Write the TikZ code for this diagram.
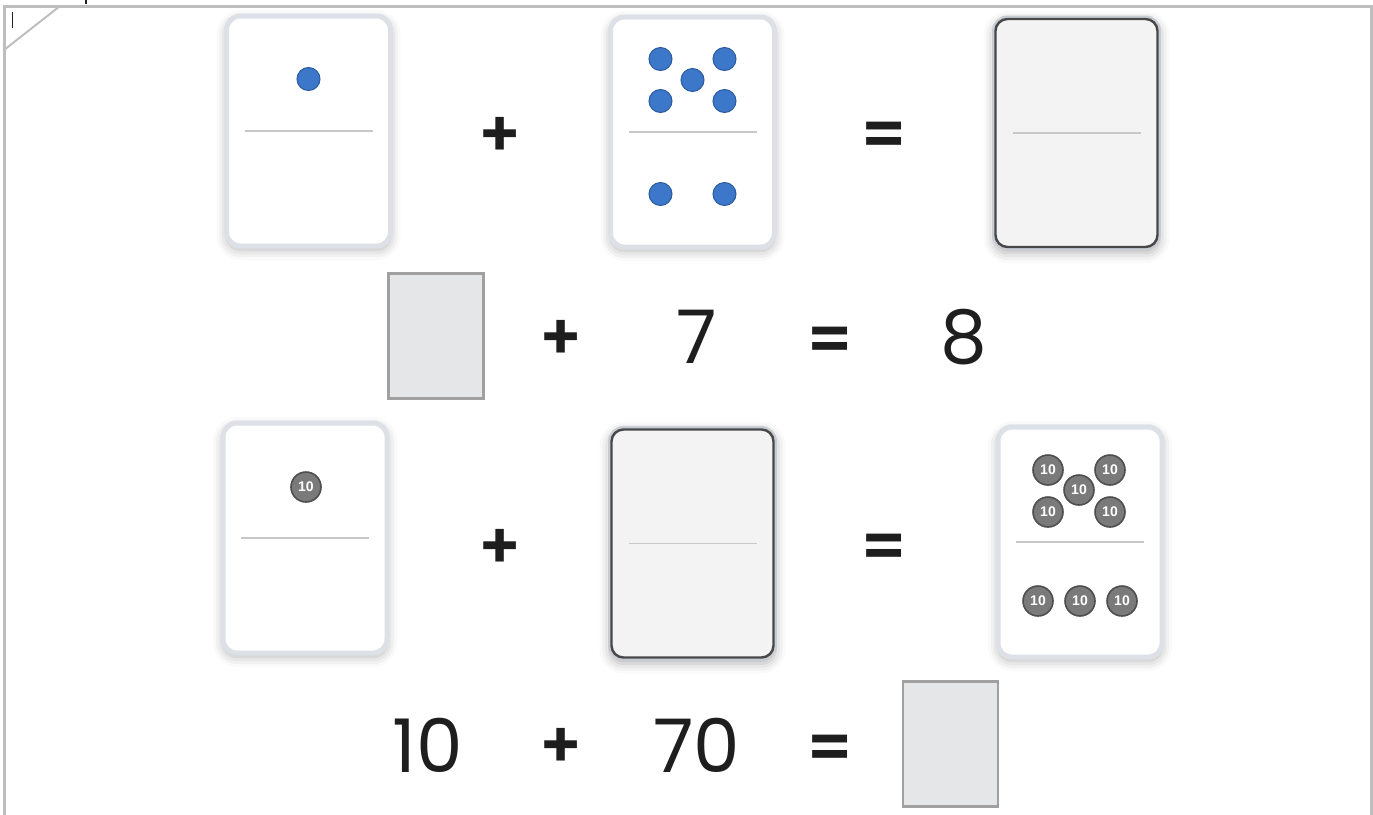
\documentclass[tikz,border=0pt]{standalone}
\usepackage{fontspec}
\setmainfont{Poppins}
\newfontfamily\signfont{Poppins SemiBold}
\newfontfamily\counterfont{Liberation Sans}
\usepackage{tikz}
\usetikzlibrary{shadows.blur}
\definecolor{pipblue}{RGB}{61, 119, 201}
\definecolor{pipedge}{RGB}{42, 92, 158}
\definecolor{dominorim}{RGB}{221, 225, 231}
\definecolor{blankrimout}{RGB}{200, 205, 212}
\definecolor{blankrim}{RGB}{72, 72, 72}
\definecolor{blankfill}{RGB}{243, 243, 243}
\definecolor{dividergrey}{RGB}{200, 200, 200}
\definecolor{countergrey}{RGB}{122, 122, 122}
\definecolor{counteredge}{RGB}{78, 78, 78}
\definecolor{answerfill}{RGB}{229, 230, 232}
\definecolor{answerrim}{RGB}{160, 160, 160}
\definecolor{framegrey}{RGB}{190, 190, 190}
\definecolor{inkblack}{RGB}{30, 30, 30}

\tikzset{
  domino/.style={draw=dominorim, line width=2.5pt, fill=white, rounded corners=7pt,
                 minimum width=82pt, minimum height=115pt, inner sep=0pt,
                 blur shadow={shadow xshift=0pt, shadow yshift=-2pt, shadow blur radius=5pt, shadow opacity=30}},
  blankdomino/.style={domino, draw=blankrimout, fill=blankfill, line width=1.5pt,
                 minimum width=83pt, minimum height=116pt},
  blankrimline/.style={blankrim, line width=1.2pt, rounded corners=6pt},
  divider/.style={dividergrey, line width=0.75pt},
  pip/.style={circle, fill=pipblue, draw=pipedge, line width=0.5pt, inner sep=0pt, minimum size=11.5pt},
  tenpip/.style={circle, fill=countergrey, draw=counteredge, line width=0.8pt, inner sep=0pt,
                 minimum size=15pt, text=white, font=\counterfont\bfseries\fontsize{7}{7}\selectfont},
  sign/.style={inner sep=0pt, text=inkblack, font=\signfont\fontsize{32}{32}\selectfont},
  numeral/.style={inner sep=0pt, text=inkblack, font=\fontsize{37}{37}\selectfont},
  answerbox/.style={draw=answerrim, fill=answerfill, line width=1.3pt,
                 minimum width=47.5pt, minimum height=62.7pt, inner sep=0pt}
}

\begin{document}
\begin{tikzpicture}[x=0.5pt, y=-0.5pt]
  \useasboundingbox (0,0) rectangle (1373,815);

  % frame
  \draw[framegrey, line width=1.5pt] (4,815) -- (4,6) -- (1371,6) -- (1371,815);
  \draw[framegrey, line width=1pt] (4,50) -- (60,6);
  \draw[inkblack, line width=0.5pt] (12,12) -- (12,28);
  \draw[inkblack, line width=1pt] (86,0) -- (86,4);

  % first row
  \node[domino]      (d1) at (308.5,131) {};
  \node[domino]      (d2) at (692.5,132) {};
  \node[blankdomino] (d3) at (1076.5,133) {};
  \draw[blankrimline] ([shift={(3.5,3.5)}]d3.north west) rectangle ([shift={(-3.5,-3.5)}]d3.south east);
  \draw[divider] ([xshift=-32pt]d1.center) -- ([xshift=32pt]d1.center);
  \draw[divider] ([xshift=-32pt]d2.center) -- ([xshift=32pt]d2.center);
  \draw[divider] ([xshift=-32pt]d3.center) -- ([xshift=32pt]d3.center);
  \node[pip] (p1) at ([shift={(0,-52)}]d1.center) {};
  \foreach \n/\dx/\dy in {a/-32/-73, b/32/-73, c/0/-52, d/-32/-31, e/32/-31, f/-32/62, g/32/62}
    \node[pip] (p\n) at ([shift={(\dx,\dy)}]d2.center) {};
  \node[sign] (plus1) at (500,137) {+};
  \node[sign] (eq1)   at (884,139) {=};

  % second row
  \node[answerbox]   (box1) at (436,336) {};
  \node[sign]        (plus2) at (561,340) {+};
  \node[numeral]     (seven) at (697,337) {7};
  \node[sign]        (eq2)   at (830,344) {=};
  \node[numeral]     (eight) at (964,337) {8};

  % third row
  \node[domino]      (d4) at (305,538) {};
  \node[blankdomino] (d5) at (692.5,543.5) {};
  \node[domino]      (d6) at (1080,542) {};
  \draw[blankrimline] ([shift={(3.5,3.5)}]d5.north west) rectangle ([shift={(-3.5,-3.5)}]d5.south east);
  \draw[divider] ([xshift=-32pt]d4.center) -- ([xshift=32pt]d4.center);
  \draw[divider] ([xshift=-32pt]d5.center) -- ([xshift=32pt]d5.center);
  \draw[divider] ([xshift=-32pt]d6.center) -- ([xshift=32pt]d6.center);
  \node[tenpip] (t1) at ([shift={(1,-51)}]d4.center) {10};
  \foreach \n/\dx/\dy in {a/-32/-72, b/30/-72, c/-1/-52, d/-32/-30, e/30/-30, f/-42/59, g/0/59, h/42/59}
    \node[tenpip] (t\n) at ([shift={(\dx,\dy)}]d6.center) {10};
  \node[sign] (plus3) at (500,549) {+};
  \node[sign] (eq3)   at (884,551) {=};

  % fourth row
  \node[numeral]     (ten)     at (428,745) {10};
  \node[sign]        (plus4)   at (561,748) {+};
  \node[numeral]     (seventy) at (697,745) {70};
  \node[sign]        (eq4)     at (830,752) {=};
  \node[answerbox]   (box2)    at (950.5,744) {};
\end{tikzpicture}
\end{document}
